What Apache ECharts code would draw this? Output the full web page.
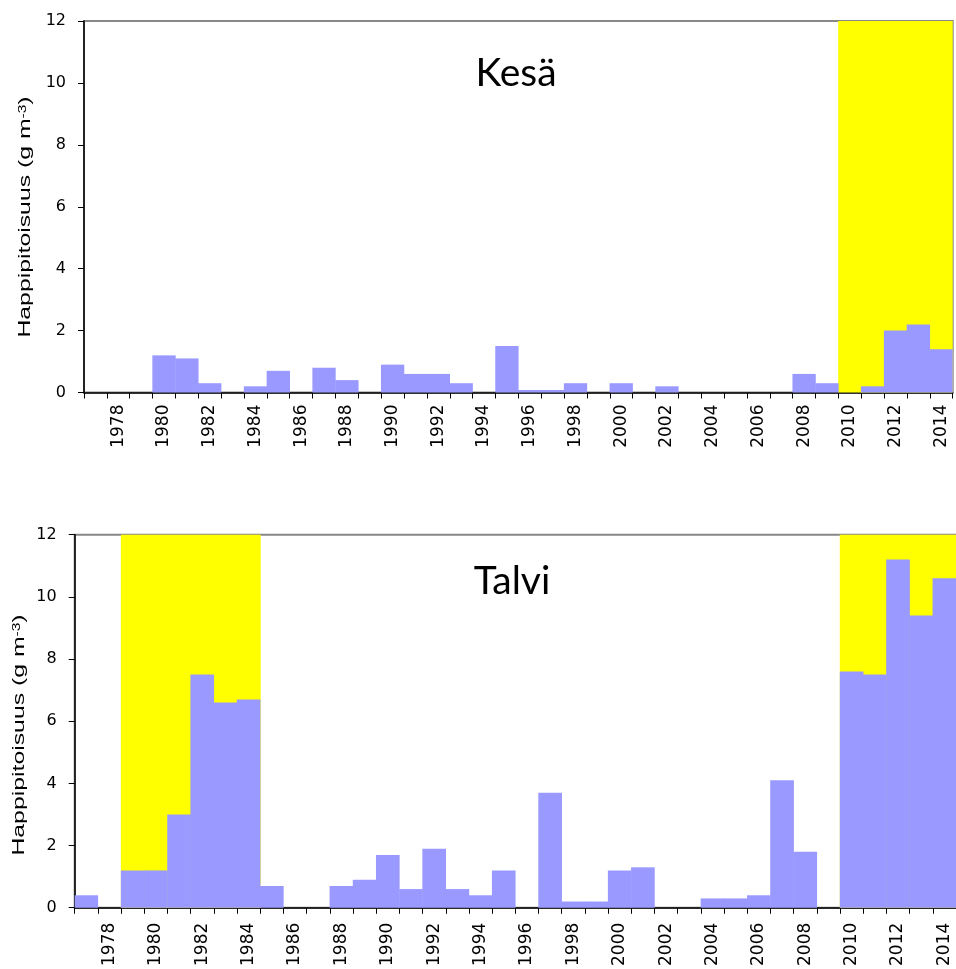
<!DOCTYPE html>
<html><head><meta charset="utf-8">
<script src="https://cdn.jsdelivr.net/npm/echarts@6/dist/echarts.min.js"></script>
<style>html,body{margin:0;padding:0;background:#fff;overflow:hidden}#c{width:956px;height:969px}</style>
</head><body><div id="c"></div>
<script>
const years = ['1977','1978','1979','1980','1981','1982','1983','1984','1985','1986','1987','1988','1989','1990','1991','1992','1993','1994','1995','1996','1997','1998','1999','2000','2001','2002','2003','2004','2005','2006','2007','2008','2009','2010','2011','2012','2013','2014'];
const kesaValues = [0,0,0,1.2,1.1,0.3,0,0.2,0.7,0,0.8,0.4,0,0.9,0.6,0.6,0.3,0,1.5,0.08,0.08,0.3,0,0.3,0,0.2,0,0,0,0,0,0.6,0.3,0,0.2,2.0,2.2,1.4];
const talviValues = [0.4,0,1.2,1.2,3.0,7.5,6.6,6.7,0.7,0,0,0.7,0.9,1.7,0.6,1.9,0.6,0.4,1.2,0,3.7,0.2,0.2,1.2,1.3,0,0,0.3,0.3,0.4,4.1,1.8,0,7.6,7.5,11.2,9.4,10.6];
const kesaHighlight = ['2010','2011','2012','2013','2014'];
const talviHighlight = ['1979','1980','1981','1982','1983','1984','2010','2011','2012','2013','2014'];
const yTicks = [0,2,4,6,8,10,12];
const titles = ['Kesä','Talvi'];
const yName = 'Happipitoisuus (g m{sup|-3})';

const FONT = 'DejaVu Sans';
const NAMEFONT = 'Liberation Sans';
const yMax = yTicks[yTicks.length-1];
const BAR = '#9999ff', HL = '#ffff00';
const grids = [
  {left:84, top:21, width:868.7, height:371.5},
  {left:74.7, top:534.7, width:882.7, height:377}
];
const labelMargins = [12, 15];
const hlData = hl => years.map(y => hl.includes(y) ? yMax : '-');
const chart = echarts.init(document.getElementById('c'), null, {renderer:'canvas'});
const titleStyle = {fontFamily:'Lato', fontSize:39, fontWeight:'normal', color:'#000'};
const option = {
  animation:false,
  backgroundColor:'#fff',
  title:[
    {text:titles[0], left:511, top:49, textAlign:'center', textStyle:titleStyle},
    {text:titles[1], left:507, top:557, textAlign:'center', textStyle:titleStyle}
  ],
  grid: grids.map(g => Object.assign({show:true, borderColor:'#888', borderWidth:2, backgroundColor:'#fff', containLabel:false}, g)),
  xAxis: [0,1].map(i => ({
    type:'category', gridIndex:i, data:years, boundaryGap:true,
    axisLine:{show:true, onZero:false, lineStyle:{color:'#000', width:1.5}},
    axisTick:{show:true, interval:0, length:6, lineStyle:{color:'#000', width:1}},
    axisLabel:{interval:(idx)=> idx % 2 === 1, rotate:90, fontFamily:FONT, fontSize:17, color:'#000', margin:labelMargins[i]},
    splitLine:{show:false}
  })),
  yAxis: [0,1].map(i => ({
    type:'value', gridIndex:i, min:yTicks[0], max:yMax, interval:yTicks[1]-yTicks[0],
    axisLine:{show:true, lineStyle:{color:'#000', width:1.5}},
    axisTick:{show:true, length:6, lineStyle:{color:'#000', width:1}},
    axisLabel:{fontFamily:FONT, fontSize:16, color:'#000', margin:18},
    splitLine:{show:false}
  })),
  series: [
    {type:'bar', xAxisIndex:0, yAxisIndex:0, data:hlData(kesaHighlight), barWidth:'103%', barGap:'-100%', itemStyle:{color:HL}, silent:true, z:1},
    {type:'bar', xAxisIndex:0, yAxisIndex:0, data:kesaValues, barWidth:'102%', barGap:'-100%', itemStyle:{color:BAR}, z:2},
    {type:'bar', xAxisIndex:1, yAxisIndex:1, data:hlData(talviHighlight), barWidth:'103%', barGap:'-100%', itemStyle:{color:HL}, silent:true, z:1},
    {type:'bar', xAxisIndex:1, yAxisIndex:1, data:talviValues, barWidth:'102%', barGap:'-100%', itemStyle:{color:BAR}, z:2}
  ],
  graphic: [
    {type:'text', x:26, y:217, rotation:Math.PI/2, scaleX:1.55, style:{text:yName, fontFamily:NAMEFONT, fontSize:16, fill:'#000', align:'center', verticalAlign:'middle', rich:{sup:{fontSize:10, fontFamily:NAMEFONT, fill:'#000', verticalAlign:'top', padding:[0,0,6,0]}}}},
    {type:'text', x:20, y:735, rotation:Math.PI/2, scaleX:1.55, style:{text:yName, fontFamily:NAMEFONT, fontSize:16, fill:'#000', align:'center', verticalAlign:'middle', rich:{sup:{fontSize:10, fontFamily:NAMEFONT, fill:'#000', verticalAlign:'top', padding:[0,0,6,0]}}}}
  ]
};
chart.setOption(option);
</script></body></html>
